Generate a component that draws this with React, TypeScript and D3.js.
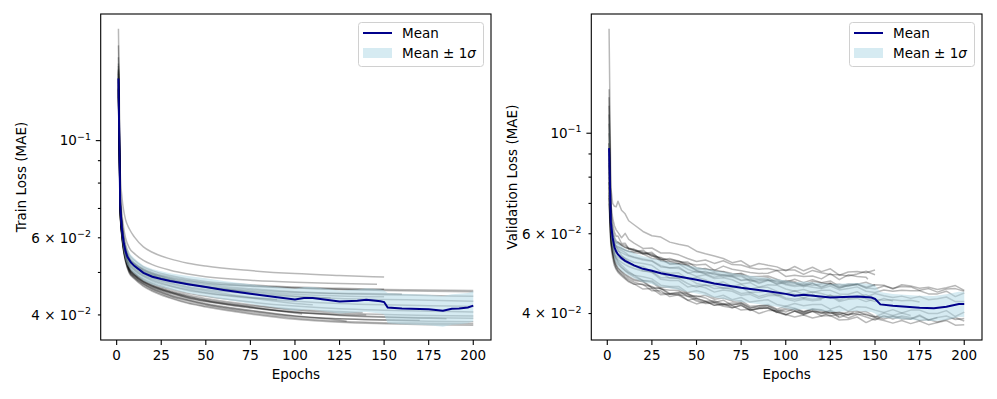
import { useRef, useEffect } from "react";
import * as d3 from "d3";

// losses are stored in units of 1e-4 (e.g. 463 -> 0.0463)

// ---- train runs: values at trainEpochs, last value sits at the run's end epoch
const trainEpochs = [1, 2, 3, 4, 5, 7, 10, 15, 20, 30, 40, 50, 75, 100, 125, 150, 175, 200];
const trainEnds = [150, 146, 150, 200, 200, 200, 200, 200, 200, 200, 200, 138, 129, 120, 104, 80, 150, 110, 185, 90, 200, 200, 170, 200, 160, 140];
const trainRuns = [
  [1800, 850, 740, 690, 660, 630, 602, 572, 556, 537, 525, 517, 505, 497, 492, 488],
  [1650, 780, 680, 630, 600, 570, 552, 533, 521, 506, 496, 489, 480, 475, 472, 470],
  [1550, 750, 655, 608, 580, 550, 533, 515, 505, 492, 483, 477, 469, 463, 460, 458],
  [1480, 735, 642, 596, 570, 540, 524, 508, 498, 486, 478, 472, 465, 461, 458, 457, 456, 455],
  [1440, 725, 635, 590, 564, 534, 519, 503, 493, 480, 471, 465, 456, 450, 447, 445, 443, 441],
  [1400, 715, 628, 584, 558, 528, 513, 497, 487, 474, 464, 457, 447, 440, 436, 434, 432, 430],
  [1370, 708, 622, 578, 552, 522, 507, 491, 481, 467, 457, 450, 438, 430, 425, 422, 420, 418],
  [1340, 700, 615, 572, 546, 516, 500, 484, 473, 459, 448, 441, 428, 419, 413, 410, 408, 406],
  [1310, 692, 608, 565, 539, 509, 493, 476, 465, 450, 438, 430, 416, 406, 400, 396, 394, 393],
  [1290, 688, 603, 560, 534, 504, 488, 471, 459, 443, 432, 423, 409, 398, 392, 389, 387, 386],
  [1260, 682, 598, 555, 529, 499, 483, 465, 453, 437, 425, 417, 402, 391, 385, 382, 380, 379],
  [1330, 698, 613, 570, 544, 514, 498, 481, 470, 455, 444, 436, 422, 412, 407, 405],
  [1300, 690, 605, 562, 536, 506, 490, 473, 461, 445, 434, 425, 410, 398, 389, 387],
  [1420, 720, 632, 588, 562, 532, 517, 501, 491, 479, 469, 462, 451, 442, 437],
  [1320, 696, 611, 568, 542, 512, 496, 479, 467, 452, 441, 432, 417, 404, 402],
  [1450, 728, 638, 593, 567, 537, 522, 506, 496, 483, 472, 464, 449, 445],
  [1430, 722, 633, 589, 563, 533, 518, 502, 492, 480, 470, 463, 453, 446, 442, 440],
  [1360, 705, 620, 576, 550, 520, 505, 489, 478, 465, 455, 448, 437, 425, 422],
  [1310, 692, 608, 565, 539, 509, 493, 476, 465, 450, 439, 431, 417, 406, 399, 395, 393, 392],
  [1390, 712, 625, 581, 555, 525, 510, 494, 484, 471, 461, 454, 439, 434],
  [1500, 740, 645, 598, 572, 542, 526, 510, 500, 488, 480, 474, 466, 461, 457, 455, 453, 452],
  [1270, 685, 600, 557, 531, 501, 485, 467, 455, 439, 427, 419, 404, 393, 387, 384, 383, 382],
  [1280, 686, 602, 559, 533, 503, 487, 470, 458, 442, 431, 422, 407, 396, 392, 390, 389],
  [1315, 694, 610, 567, 541, 511, 495, 478, 467, 452, 441, 433, 420, 410, 404, 401, 399, 398],
  [1460, 730, 640, 594, 568, 538, 522, 506, 496, 484, 475, 469, 459, 452, 448, 447, 446],
  [1305, 693, 607, 564, 538, 508, 492, 475, 463, 448, 437, 429, 415, 405, 401, 400],
];
const trainMeanEpochs = [1, 2, 3, 4, 5, 6, 8, 10, 15, 20, 25, 30, 40, 50, 60, 75, 90, 100, 105, 110, 125, 135, 140, 148, 150, 152, 160, 175, 183, 188, 192, 197, 200];
const trainMean = [1386, 710, 625, 583, 558, 543, 527, 517, 499, 489, 483, 478, 470, 463, 456, 447, 439, 434, 437, 437, 429, 431, 433, 430, 428, 416, 414, 412, 409, 413, 414, 416, 420];
const trainStd = [200, 40, 30, 27, 25, 23, 22, 21, 20, 20, 20, 20, 21, 22, 22, 23, 24, 25, 26, 26, 26, 26, 27, 27, 27, 33, 33, 33, 33, 33, 33, 33, 33];

// ---- validation runs (rows: epochs 1..15 | 20..65 | 70..115 | 120..165 | 170..200)
const valEpochs = [1, 2, 3, 4, 5, 6, 8, 10, 12, 15, ...d3.range(20, 201, 5)];
const valEnds = [150, 150, 146, 200, 200, 150, 140, 200, 175, 160, 150, 200, 200, 200, 138, 130, 185, 120, 200, 150, 200, 170];
const valRuns = [
  [1700, 760, 700, 690, 688, 708, 676, 664, 641, 628,
    607, 594, 590, 575, 569, 564, 549, 542, 536, 529,
    518, 523, 508, 516, 511, 507, 497, 508, 497, 506,
    495, 502, 486, 494, 495, 492, 499],
  [1250, 700, 650, 625, 612, 604, 588, 601, 583, 572,
    557, 558, 544, 544, 539, 529, 521, 525, 516, 523,
    513, 512, 505, 501, 503, 498, 499, 499, 488, 498,
    492, 488, 487, 484, 489, 496, 487],
  [1200, 680, 630, 605, 592, 593, 571, 572, 556, 555,
    542, 546, 525, 529, 521, 516, 512, 514, 498, 509,
    501, 497, 493, 490, 491, 498, 483, 486, 483, 484,
    477, 490, 475, 487, 483, 481, 476],
  [1000, 640, 598, 580, 572, 575, 568, 566, 558, 553,
    547, 537, 532, 522, 520, 520, 505, 501, 499, 494,
    487, 491, 482, 483, 484, 476, 469, 476, 468, 475,
    468, 472, 459, 465, 465, 458, 463, 462, 453, 463,
    460, 455, 457, 452, 456, 461, 450],
  [880, 625, 585, 568, 560, 556, 551, 546, 538, 533,
    528, 523, 510, 504, 507, 491, 496, 489, 481, 486,
    482, 473, 475, 466, 473, 471, 463, 459, 461, 457,
    454, 460, 451, 454, 458, 448, 445, 451, 448, 450,
    449, 449, 442, 442, 448, 436, 444],
  [1150, 660, 615, 590, 578, 574, 566, 560, 556, 551,
    545, 542, 528, 526, 523, 510, 501, 503, 495, 495,
    490, 489, 479, 477, 480, 468, 473, 470, 462, 471,
    468, 463, 464, 460, 464, 469, 460],
  [950, 630, 590, 572, 565, 562, 558, 552, 548, 545,
    542, 529, 526, 514, 515, 513, 498, 493, 492, 486,
    486, 486, 473, 475, 475, 465, 468, 467, 458, 467,
    456, 466, 454, 463, 463],
  [900, 620, 580, 562, 553, 550, 545, 540, 536, 532,
    525, 522, 507, 505, 503, 492, 483, 487, 478, 480,
    475, 465, 468, 457, 463, 462, 453, 448, 452, 445,
    450, 450, 442, 441, 447, 435, 443, 438, 434, 437,
    432, 436, 429, 431, 435, 425, 425],
  [850, 610, 570, 552, 543, 540, 535, 530, 525, 519,
    516, 511, 495, 491, 492, 477, 481, 475, 465, 470,
    459, 464, 453, 457, 457, 448, 442, 449, 441, 447,
    443, 437, 438, 432, 436, 440, 429, 428, 429, 427,
    428, 424],
  [800, 600, 562, 545, 536, 532, 527, 521, 515, 509,
    508, 493, 491, 479, 480, 479, 466, 461, 461, 455,
    456, 457, 445, 446, 449, 438, 443, 441, 433, 441,
    431, 440, 428, 436, 435, 431, 425, 432, 426],
  [780, 595, 558, 540, 530, 526, 519, 513, 508, 503,
    496, 495, 480, 480, 478, 466, 457, 463, 454, 456,
    452, 443, 445, 436, 442, 442, 433, 430, 433, 430,
    432, 437, 425, 430, 432, 425, 431],
  [760, 585, 548, 530, 519, 514, 505, 498, 492, 486,
    482, 477, 462, 459, 459, 445, 449, 444, 434, 439,
    429, 434, 424, 427, 429, 419, 415, 421, 416, 419,
    419, 409, 415, 405, 414, 413, 407, 402, 408, 401,
    407, 407, 400, 400, 406, 394, 403],
  [740, 580, 545, 522, 510, 503, 494, 486, 480, 473,
    470, 455, 454, 441, 444, 440, 429, 423, 424, 418,
    419, 420, 408, 410, 412, 402, 408, 405, 397, 405,
    395, 403, 392, 399, 399, 393, 387, 396, 389, 395,
    392, 386, 388, 383, 388, 392, 385],
  [720, 575, 540, 516, 503, 496, 487, 479, 472, 465,
    453, 454, 440, 442, 439, 428, 420, 425, 417, 419,
    416, 407, 409, 400, 406, 406, 398, 393, 397, 391,
    395, 396, 387, 388, 393, 382, 390, 386, 381, 386,
    380, 385, 378, 382, 386, 377, 378],
  [820, 605, 560, 538, 528, 518, 506, 497, 490, 482,
    473, 469, 453, 450, 450, 436, 438, 433, 423, 428,
    417, 422, 411, 416, 416, 408, 403, 410, 403, 409,
    406, 400, 402, 397, 403],
  [700, 565, 530, 510, 500, 493, 484, 477, 470, 464,
    464, 449, 449, 436, 440, 437, 426, 421, 422, 415,
    412, 417, 406, 411, 411, 403, 397, 405, 399, 405,
    400, 405, 394],
  [860, 615, 565, 540, 530, 522, 512, 503, 495, 486,
    473, 472, 457, 457, 454, 442, 435, 439, 430, 433,
    426, 427, 415, 416, 419, 409, 415, 411, 404, 410,
    408, 401, 403, 397, 402, 404, 394, 393, 395, 392,
    389, 397, 387, 392],
  [1050, 650, 600, 575, 562, 552, 538, 528, 520, 510,
    498, 493, 476, 473, 473, 458, 461, 456, 446, 451,
    448, 439, 441, 432, 438, 439, 430, 426, 430, 427,
    429],
  [950, 630, 588, 570, 562, 560, 556, 552, 549, 547,
    552, 535, 530, 515, 515, 510, 497, 490, 490, 482,
    483, 483, 471, 472, 475, 464, 471, 467, 461, 466,
    459, 465, 456, 461, 464, 456, 453, 460, 455, 459,
    458, 450, 454, 446, 453, 454, 448],
  [1100, 650, 605, 585, 575, 570, 565, 560, 556, 552,
    542, 539, 522, 520, 515, 501, 493, 496, 487, 488,
    484, 474, 477, 468, 474, 474, 465, 462, 466, 461,
    465, 467, 457, 460, 464, 455, 463],
  [730, 578, 542, 518, 506, 498, 490, 482, 476, 469,
    463, 459, 444, 442, 442, 428, 432, 426, 417, 421,
    412, 417, 407, 411, 412, 403, 398, 405, 400, 404,
    403, 395, 399, 391, 398, 399, 392, 389, 394, 389,
    389, 395, 387, 392, 395, 388, 390],
  [780, 590, 552, 528, 514, 505, 496, 489, 483, 476,
    472, 457, 455, 443, 446, 443, 432, 426, 427, 420,
    422, 423, 412, 413, 416, 405, 411, 408, 402, 408,
    401, 407, 398, 403, 405, 397, 393, 401, 396, 401,
    396],
];
const valMeanEpochs = [1, 2, 3, 4, 5, 6, 8, 10, 15, 20, 25, 30, 40, 50, 60, 75, 90, 100, 105, 110, 125, 140, 148, 150, 153, 160, 175, 183, 190, 197, 200];
const valMean = [927, 635, 588, 560, 548, 540, 530, 523, 511, 502, 497, 491, 483, 475, 466, 456, 448, 442, 438, 440, 434, 436, 434, 431, 419, 416, 412, 411, 414, 420, 420];
const valStd = [200, 40, 36, 34, 33, 33, 33, 33, 33, 33, 33, 33, 32, 32, 32, 32, 31, 31, 31, 31, 31, 31, 31, 31, 27, 26, 26, 26, 27, 27, 27];

// ---- axes
const xTicks = [0, 25, 50, 75, 100, 125, 150, 175, 200];
const yMajorTicks = [0.1];
const yMinorTicks = [0.04, 0.05, 0.06, 0.07, 0.08, 0.09];
const yLabelValues = [0.04, 0.06, 0.1];
const yLabelMantissa = ["4 × 10", "6 × 10", "10"];
const yLabelExponent = ["−2", "−2", "−1"];

const FONT = "DejaVu Sans, sans-serif";
const FS = 13.5;
const MEAN_COLOR = "#00008B";
const BAND_COLOR = "#ADD8E6";

type Panel = {
  left: number;
  right: number;
  top: number;
  bottom: number;
  yLabel: string;
  yLabelX: number;
  epochs: number[];
  ends: number[];
  runs: number[][];
  smooth: boolean;
  meanEpochs: number[];
  mean: number[];
  std: number[];
};

function runPoints(epochs: number[], end: number, vals: number[]) {
  const ep = epochs.filter((e) => e < end).concat([end]);
  return vals.map((v, i) => ({ e: ep[i], v: v * 1e-4 }));
}

function drawPanel(svg: any, p: Panel) {
  const all = p.runs.flat().map((v) => v * 1e-4);
  const lo = Math.log10(d3.min(all) as number);
  const hi = Math.log10(d3.max(all) as number);
  const pad = (hi - lo) * 0.05;
  const y = d3.scaleLog().domain([10 ** (lo - pad), 10 ** (hi + pad)]).range([p.bottom, p.top]);
  const ex = d3.extent(p.epochs) as [number, number];
  const xPad = (ex[1] - ex[0]) * 0.05;
  const x = d3.scaleLinear().domain([ex[0] - xPad, ex[1] + xPad]).range([p.left, p.right]);

  const g = svg.append("g");

  // runs
  const runLine = d3
    .line<any>()
    .x((d) => x(d.e))
    .y((d) => y(d.v))
    .curve(p.smooth ? d3.curveMonotoneX : d3.curveLinear);
  g.selectAll("path.run")
    .data(p.runs.map((r, i) => runPoints(p.epochs, p.ends[i], r)))
    .join("path")
    .attr("class", "run")
    .attr("d", runLine)
    .attr("fill", "none")
    .attr("stroke", "#000")
    .attr("stroke-opacity", 0.28)
    .attr("stroke-width", 1.5)
    .attr("stroke-linejoin", "round");

  // mean +- 1 sigma
  const stats = p.meanEpochs.map((e, i) => ({ e, m: p.mean[i] * 1e-4, s: p.std[i] * 1e-4 }));
  const band = d3
    .area<any>()
    .x((d) => x(d.e))
    .y0((d) => y(d.m - d.s))
    .y1((d) => y(d.m + d.s));
  g.append("path").datum(stats).attr("d", band).attr("fill", BAND_COLOR).attr("fill-opacity", 0.5);

  const meanLine = d3
    .line<any>()
    .x((d) => x(d.e))
    .y((d) => y(d.m));
  g.append("path")
    .datum(stats)
    .attr("d", meanLine)
    .attr("fill", "none")
    .attr("stroke", MEAN_COLOR)
    .attr("stroke-width", 2);

  // frame
  g.append("rect")
    .attr("x", p.left)
    .attr("y", p.top)
    .attr("width", p.right - p.left)
    .attr("height", p.bottom - p.top)
    .attr("fill", "none")
    .attr("stroke", "#000")
    .attr("stroke-width", 1.1);

  // x ticks
  xTicks.forEach((t) => {
    g.append("line")
      .attr("x1", x(t))
      .attr("x2", x(t))
      .attr("y1", p.bottom)
      .attr("y2", p.bottom + 4.9)
      .attr("stroke", "#000")
      .attr("stroke-width", 1.1);
    g.append("text")
      .attr("x", x(t))
      .attr("y", p.bottom + 19.6)
      .attr("text-anchor", "middle")
      .attr("font-family", FONT)
      .attr("font-size", FS)
      .text(t);
  });

  // y ticks
  const [d0, d1] = y.domain();
  yMajorTicks.concat(yMinorTicks).forEach((t) => {
    if (t < d0 || t > d1) return;
    const len = yMajorTicks.includes(t) ? 4.9 : 2.8;
    g.append("line")
      .attr("x1", p.left - len)
      .attr("x2", p.left)
      .attr("y1", y(t))
      .attr("y2", y(t))
      .attr("stroke", "#000")
      .attr("stroke-width", 1.1);
  });
  yLabelValues.forEach((t, i) => {
    const txt = g
      .append("text")
      .attr("x", p.left - 9.8)
      .attr("y", y(t) + 4.8)
      .attr("text-anchor", "end")
      .attr("font-family", FONT)
      .attr("font-size", FS);
    txt.append("tspan").text(yLabelMantissa[i]);
    txt.append("tspan").attr("dy", -5.8).attr("font-size", FS * 0.7).text(yLabelExponent[i]);
  });

  // axis labels
  g.append("text")
    .attr("x", (p.left + p.right) / 2)
    .attr("y", p.bottom + 39)
    .attr("text-anchor", "middle")
    .attr("font-family", FONT)
    .attr("font-size", FS)
    .text("Epochs");
  g.append("text")
    .attr("transform", `translate(${p.yLabelX}, ${(p.top + p.bottom) / 2}) rotate(-90)`)
    .attr("text-anchor", "middle")
    .attr("font-family", FONT)
    .attr("font-size", FS)
    .text(p.yLabel);

  // legend
  const lw = 125,
    lh = 44;
  const lg = g.append("g").attr("transform", `translate(${p.right - 8 - lw}, ${p.top + 8})`);
  lg.append("rect")
    .attr("x", 0.5)
    .attr("y", 0.5)
    .attr("width", lw)
    .attr("height", lh)
    .attr("rx", 3)
    .attr("fill", "#fff")
    .attr("fill-opacity", 0.8)
    .attr("stroke", "#d0d0d0")
    .attr("stroke-width", 1);
  lg.append("line")
    .attr("x1", 5)
    .attr("x2", 34)
    .attr("y1", 11)
    .attr("y2", 11)
    .attr("stroke", MEAN_COLOR)
    .attr("stroke-width", 2);
  lg.append("text")
    .attr("x", 44)
    .attr("y", 16)
    .attr("font-family", FONT)
    .attr("font-size", FS)
    .text("Mean");
  lg.append("rect")
    .attr("x", 5)
    .attr("y", 26)
    .attr("width", 29)
    .attr("height", 10)
    .attr("fill", BAND_COLOR)
    .attr("fill-opacity", 0.5);
  const t2 = lg
    .append("text")
    .attr("x", 44)
    .attr("y", 36)
    .attr("font-family", FONT)
    .attr("font-size", FS);
  t2.append("tspan").text("Mean ± 1");
  t2.append("tspan").attr("font-style", "italic").text("σ");
}

export default function App() {
  const ref = useRef<HTMLDivElement>(null);

  useEffect(() => {
    document.body.style.margin = "0";
    const el = ref.current as HTMLDivElement;
    el.innerHTML = "";
    const svg = d3
      .select(el)
      .append("svg")
      .attr("width", 997)
      .attr("height", 399)
      .style("display", "block")
      .style("background", "#fff");

    drawPanel(svg, {
      left: 100.7,
      right: 491,
      top: 14,
      bottom: 340,
      yLabel: "Train Loss (MAE)",
      yLabelX: 25.5,
      epochs: trainEpochs,
      ends: trainEnds,
      runs: trainRuns,
      smooth: true,
      meanEpochs: trainMeanEpochs,
      mean: trainMean,
      std: trainStd,
    });
    drawPanel(svg, {
      left: 591.3,
      right: 982,
      top: 14,
      bottom: 340,
      yLabel: "Validation Loss (MAE)",
      yLabelX: 516.8,
      epochs: valEpochs,
      ends: valEnds,
      runs: valRuns,
      smooth: false,
      meanEpochs: valMeanEpochs,
      mean: valMean,
      std: valStd,
    });
  }, []);

  return <div ref={ref}></div>;
}
